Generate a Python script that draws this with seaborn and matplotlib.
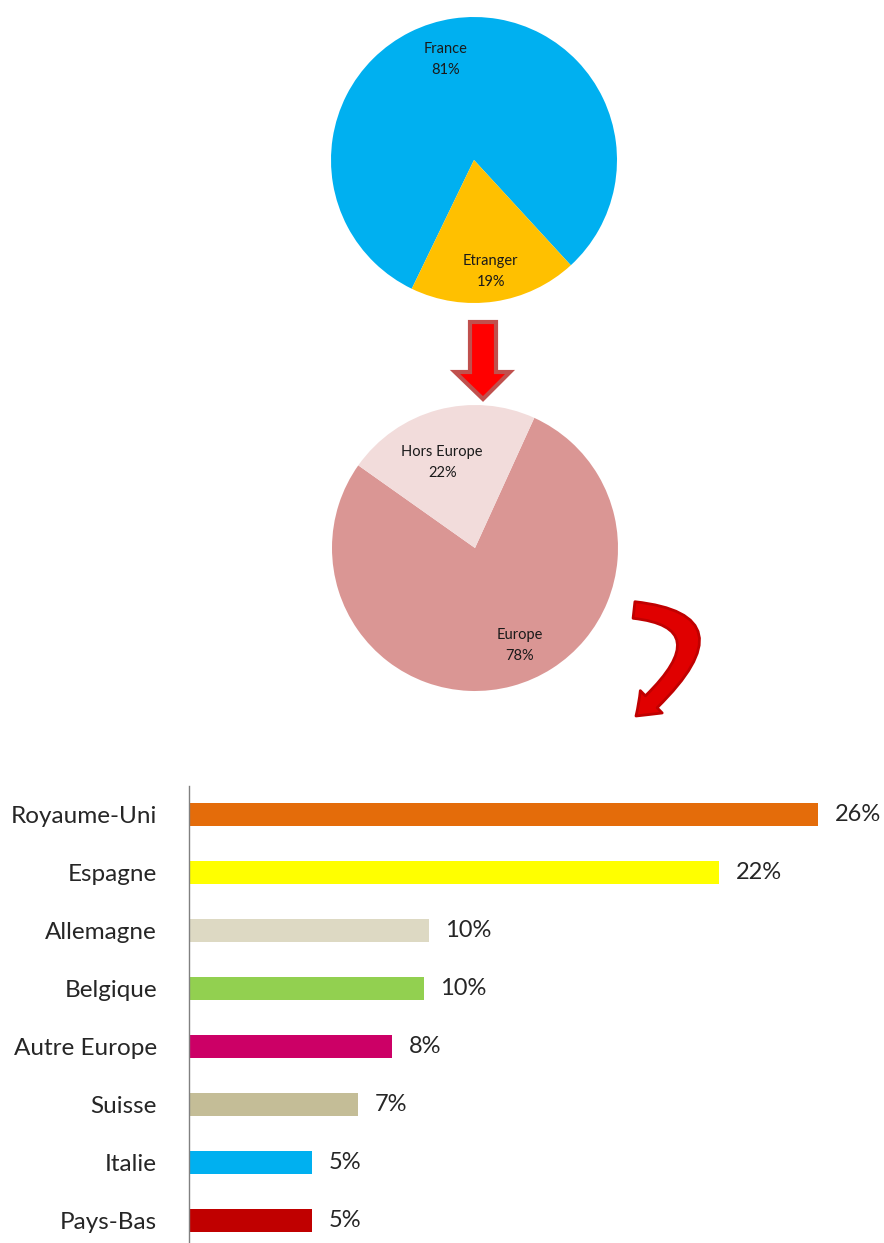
import numpy as np
import matplotlib
matplotlib.use("Agg")
import matplotlib.pyplot as plt
import seaborn as sns
from matplotlib.patches import Polygon, FancyArrowPatch
from matplotlib.path import Path

# ---------------- data ----------------
pie1_labels = ["France", "Etranger"]
pie1_values = [81, 19]
pie1_colors = ["#00B0F0", "#FFC000"]

pie2_labels = ["Europe", "Hors Europe"]
pie2_values = [78, 22]
pie2_colors = ["#DA9694", "#F2DCDB"]

countries = ["Royaume-Uni", "Espagne", "Allemagne", "Belgique",
             "Autre Europe", "Suisse", "Italie", "Pays-Bas"]
shares = [26.0, 21.9, 9.9, 9.7, 8.4, 7.0, 5.1, 5.1]
bar_colors = ["#E46C0A", "#FFFF00", "#DDD9C3", "#92D050",
              "#CC0066", "#C4BD97", "#00B0F0", "#C00000"]

# ---------------- style ----------------
sns.set_theme(style="white")
plt.rcParams["font.family"] = ["Lato", "DejaVu Sans"]

W, H = 884, 1243
fig = plt.figure(figsize=(W / 100, H / 100), dpi=100)


def px_axes(cx, cy, r):
    return fig.add_axes([(cx - r) / W, 1 - (cy + r) / H, 2 * r / W, 2 * r / H])


def draw_pie(ax, values, labels, colors, start, dists):
    wedges, texts = ax.pie(values, colors=colors, startangle=start,
                           counterclock=False, radius=1,
                           labels=[f"{l}\n{v}%" for l, v in zip(labels, values)],
                           labeldistance=0.75,
                           textprops=dict(fontsize=10.5, color="#1a1a1a",
                                          ha="center", va="center",
                                          linespacing=1.65),
                           wedgeprops=dict(linewidth=0))
    for w, t, d in zip(wedges, texts, dists):
        ang = np.deg2rad((w.theta1 + w.theta2) / 2)
        t.set_position((d * np.cos(ang), d * np.sin(ang)))
        t.set_ha("center")
    ax.set_xlim(-1, 1)
    ax.set_ylim(-1, 1)
    ax.set_aspect("equal")
    ax.axis("off")
    return wedges, texts


ax1 = px_axes(474, 160, 143)
w1, t1 = draw_pie(ax1, pie1_values, pie1_labels, pie1_colors, 244.2, [0.73, 0.79])
ang = np.deg2rad(105.6)
t1[0].set_position((0.73 * np.cos(ang), 0.73 * np.sin(ang)))

ax2 = px_axes(475, 548, 143)
w2, t2 = draw_pie(ax2, pie2_values, pie2_labels, pie2_colors, 65.5, [0.75, 0.64])
t2[0].set_position((0.75 * np.cos(np.deg2rad(294.7)), 0.75 * np.sin(np.deg2rad(294.7))))
t2[1].set_position((0.64 * np.cos(np.deg2rad(111)), 0.64 * np.sin(np.deg2rad(111))))

# ---------------- bar chart ----------------
axb = fig.add_axes([189 / W, 0, (W - 189) / W, (H - 786) / H])
sns.barplot(x=shares, y=countries, hue=countries, palette=bar_colors,
            legend=False, orient="h", width=0.4, ax=axb,
            saturation=1, linewidth=0)
scale = 629 / 26.0
axb.set_xlim(0, (W - 189) / scale)
axb.set_ylim((H - 814.5) / 58, (786 - 814.5) / 58)
for c in axb.containers:
    axb.bar_label(c, labels=[f"{v:.0f}%" for v in c.datavalues],
                  padding=12, fontsize=17, color="#262626")
for t in axb.texts:
    t.set_va("center")
axb.set_xticks([])
axb.set_xlabel("")
axb.set_ylabel("")
axb.tick_params(axis="y", length=0, pad=23, labelsize=17.5, labelcolor="#262626")
for s in ["top", "right", "bottom"]:
    axb.spines[s].set_visible(False)
axb.spines["left"].set_color("#808080")
axb.spines["left"].set_linewidth(1)
axb.patch.set_alpha(0)

# ---------------- arrows overlay ----------------
ov = fig.add_axes([0, 0, 1, 1], zorder=5)
ov.set_xlim(0, W)
ov.set_ylim(H, 0)
ov.axis("off")
ov.patch.set_alpha(0)

down = Polygon([(470, 322), (496, 322), (496, 372), (510, 372),
                (483, 399), (455, 372), (470, 372)],
               closed=True, facecolor="#FF0000", edgecolor="#C0504D",
               linewidth=3, joinstyle="miter")
ov.add_patch(down)

curve_path = Path([(634, 610), (742, 622), (636, 716)],
                  [Path.MOVETO, Path.CURVE3, Path.CURVE3])
curve = FancyArrowPatch(path=curve_path,
                        arrowstyle="simple,head_length=1.0,head_width=1.5,tail_width=0.8",
                        mutation_scale=15, facecolor="#E00000",
                        edgecolor="#C00000", linewidth=2,
                        transform=ov.transData)
ov.add_patch(curve)

fig.savefig("out.png", dpi=100)
